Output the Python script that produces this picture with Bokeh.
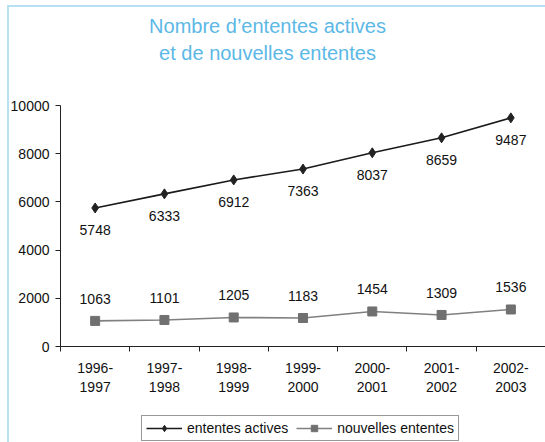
from bokeh.plotting import figure
from bokeh.layouts import column
from bokeh.models import (ColumnDataSource, LabelSet, Legend, LegendItem, Range1d,
                          FixedTicker, Label)
from bokeh.core.properties import value
from bokeh.embed import file_html
from bokeh.resources import INLINE

title_lines = ["Nombre d\u2019ententes actives", "et de nouvelles ententes"]
periods = ["1996-\n1997", "1997-\n1998", "1998-\n1999", "1999-\n2000",
           "2000-\n2001", "2001-\n2002", "2002-\n2003"]
ententes_actives = [5748, 6333, 6912, 7363, 8037, 8659, 9487]
nouvelles_ententes = [1063, 1101, 1205, 1183, 1454, 1309, 1536]
y_ticks = [0, 2000, 4000, 6000, 8000, 10000]
series_names = ["ententes actives", "nouvelles ententes"]

FONT = "Liberation Sans"
W = 545
LEFT = 60
n = len(periods)
xs = [i + 0.5 for i in range(n)]

src_a = ColumnDataSource(dict(x=xs, y=ententes_actives,
                              t=[str(v) for v in ententes_actives]))
src_n = ColumnDataSource(dict(x=xs, y=nouvelles_ententes,
                              t=[str(v) for v in nouvelles_ententes]))

# ---------- title strip ----------
TH = 80
pt = figure(width=W, height=TH, output_backend="svg", toolbar_location=None,
            x_range=Range1d(LEFT, W), y_range=Range1d(0, TH), min_border=0,
            min_border_left=LEFT, x_axis_type=None, y_axis_type=None)
pt.outline_line_color = None
pt.grid.visible = False
pt.background_fill_color = None
pt.border_fill_color = None
for txt, yc in zip(title_lines, [TH - 25, TH - 52]):
    pt.add_layout(Label(x=267, y=yc, text=txt, text_align="center",
                        text_baseline="middle", text_font=FONT,
                        text_font_size="20px", text_color="#5cb8e6"))

# ---------- main chart ----------
p = figure(width=W, height=326, output_backend="svg", toolbar_location=None,
           x_range=Range1d(0, n), y_range=Range1d(0, 10000),
           min_border_left=LEFT, min_border_right=0, min_border_top=25,
           min_border_bottom=60)
p.outline_line_color = None
p.background_fill_color = None
p.border_fill_color = None

p.xaxis.ticker = FixedTicker(ticks=xs, minor_ticks=list(range(n + 1)))
p.xaxis.major_label_overrides = {x: lab for x, lab in zip(xs, periods)}
p.xaxis.major_tick_out = 0
p.xaxis.major_tick_in = 0
p.xaxis.minor_tick_out = 5
p.xaxis.minor_tick_in = 0
p.xaxis.minor_tick_line_color = "#222222"
p.xaxis.major_label_standoff = 8
p.yaxis.ticker = FixedTicker(ticks=y_ticks)
p.yaxis.minor_tick_line_color = None
p.yaxis.major_tick_out = 5
p.yaxis.major_tick_in = 0
p.yaxis.major_label_standoff = 6
for ax in (p.xaxis, p.yaxis):
    ax.axis_line_color = "#222222"
    ax.major_tick_line_color = "#222222"
    ax.major_label_text_font = FONT
    ax.major_label_text_font_size = "14px"
    ax.major_label_text_color = "#111111"
p.xgrid.grid_line_color = None
p.ygrid.ticker = FixedTicker(ticks=[10000])
p.ygrid.grid_line_color = "#a0a0a0"

A_LINE, A_MARK = "#1a1a1a", "#222222"
N_LINE, N_MARK = "#808080", "#707070"

p.line("x", "y", source=src_a, line_color=A_LINE, line_width=1.6)
p.scatter("x", "y", source=src_a, marker="diamond", size=10,
          fill_color=A_MARK, line_color=A_MARK)
p.line("x", "y", source=src_n, line_color=N_LINE, line_width=1.6)
p.scatter("x", "y", source=src_n, marker="square", size=9,
          fill_color=N_MARK, line_color=N_MARK)

p.add_layout(LabelSet(x="x", y="y", text="t", source=src_a, y_offset=-22,
                      text_align="center", text_baseline="middle",
                      text_font=value(FONT), text_font_size="14px",
                      text_color="#111111"))
p.add_layout(LabelSet(x="x", y="y", text="t", source=src_n, y_offset=22,
                      text_align="center", text_baseline="middle",
                      text_font=value(FONT), text_font_size="14px",
                      text_color="#111111"))

# ---------- legend strip ----------
pl = figure(width=W, height=36, output_backend="svg", toolbar_location=None,
            x_range=Range1d(0, 1), y_range=Range1d(0, 1), min_border=0,
            min_border_left=LEFT, x_axis_type=None, y_axis_type=None)
pl.outline_line_color = None
pl.grid.visible = False
pl.background_fill_color = None
pl.border_fill_color = None
off = dict(x=[-3, -2], y=[-3, -2])  # outside the strip's range: legend swatches only
la = pl.line(line_color=A_LINE, line_width=1.6, **off)
ma = pl.scatter(marker="diamond", size=10, fill_color=A_MARK, line_color=A_MARK, **off)
ln = pl.line(line_color=N_LINE, line_width=1.6, **off)
mn = pl.scatter(marker="square", size=9, fill_color=N_MARK, line_color=N_MARK, **off)
legend = Legend(items=[LegendItem(label=series_names[0], renderers=[la, ma]),
                       LegendItem(label=series_names[1], renderers=[ln, mn])],
                orientation="horizontal", location=(81, 1),
                label_text_font=FONT, label_text_font_size="14px",
                label_text_color="#111111", glyph_width=36, glyph_height=16,
                label_standoff=5, spacing=8, padding=4, margin=0,
                border_line_color="#333333", border_line_width=1,
                background_fill_color="white")
pl.add_layout(legend, "center")

layout = column(pt, p, pl, spacing=0)
layout.styles = {"box-shadow": "inset 7px 5px 0 0 #ffffff, inset 9px 7px 0 0 #b8e0f4",
                 "background-color": "#ffffff"}
open("out.html", "w").write(file_html(layout, INLINE))
